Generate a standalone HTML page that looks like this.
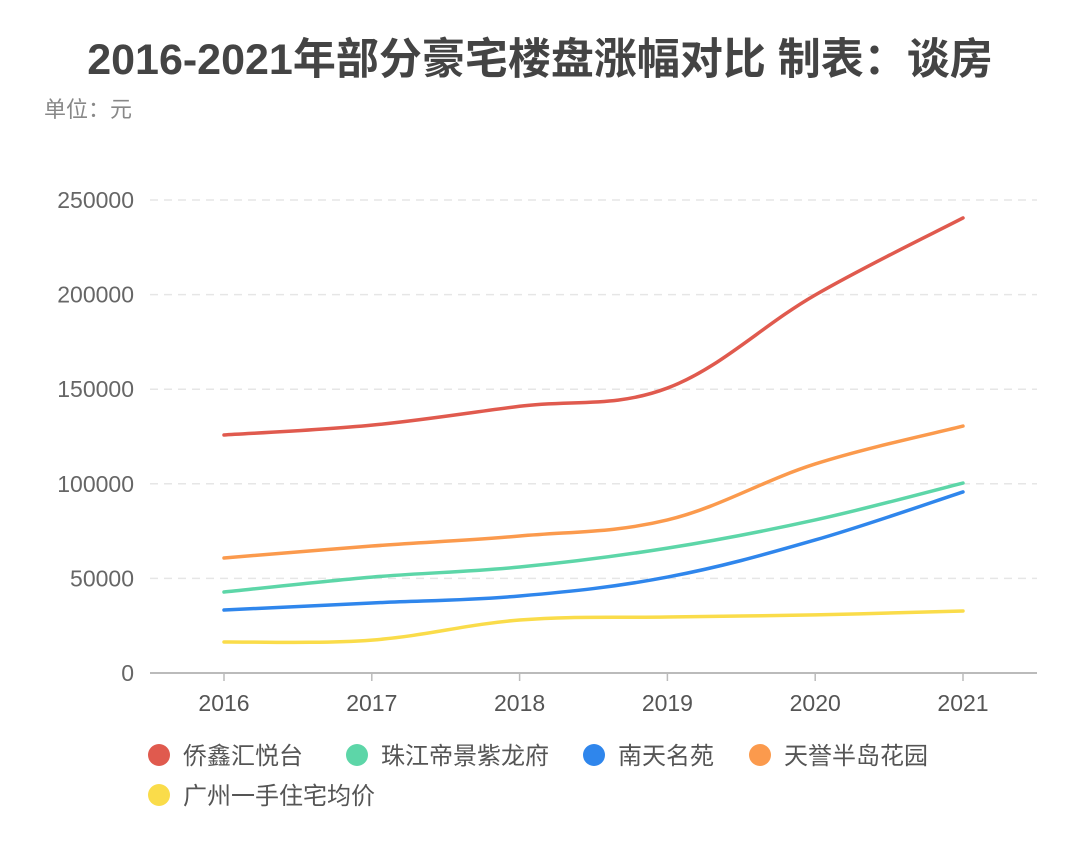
<!DOCTYPE html>
<html><head><meta charset="utf-8"><style>
body{margin:0;background:#fff;width:1080px;height:845px;overflow:hidden;font-family:"Liberation Sans","Noto Sans CJK SC",sans-serif}
</style></head><body>
<svg id="chart" width="1080" height="845" xmlns="http://www.w3.org/2000/svg" font-family="Liberation Sans, Noto Sans CJK SC, sans-serif">
<text x="540" y="74" text-anchor="middle" font-size="43" font-weight="bold" fill="#444">2016-2021年部分豪宅楼盘涨幅对比 制表：谈房</text>
<text x="44" y="117" font-size="22" fill="#888">单位：元</text>
<g id="grid"></g><g id="axes"></g><g id="lines"></g><g id="legend"></g>
</svg>
<script>
const categories=["2016","2017","2018","2019","2020","2021"];
const yTicks=[0,50000,100000,150000,200000,250000];
const seriesNames=["侨鑫汇悦台","珠江帝景紫龙府","南天名苑","天誉半岛花园","广州一手住宅均价"];
const seriesColors=["#e05a4e","#5dd6a8","#2f86ec","#fb9a4d","#fadc4a"];
const s1=[125800,131000,141000,150600,199800,240500];
const s2=[42800,50700,56000,66000,80900,100400];
const s3=[33300,37000,40700,50700,70300,95700];
const s4=[60800,67100,72400,80900,110500,130500];
const s5=[16400,17400,28000,29600,30700,32800];
const series=[s1,s2,s3,s4,s5];
const NS="http://www.w3.org/2000/svg";
const x=i=>224+i*147.8;
const y=v=>673-v/250000*473;
function mk(tag,attrs,parent){const e=document.createElementNS(NS,tag);for(const k in attrs)e.setAttribute(k,attrs[k]);parent.appendChild(e);return e;}
const grid=document.getElementById('grid'),axes=document.getElementById('axes'),lines=document.getElementById('lines'),legend=document.getElementById('legend');
yTicks.forEach(t=>{
 if(t>0){const g=mk('line',{x1:150,x2:1037,y1:y(t),y2:y(t),stroke:'#e6e6e6','stroke-dasharray':'8,6','stroke-width':1.5},grid);
 
 }
 const l=mk('text',{x:134,y:y(t)+8,'text-anchor':'end','font-size':23,fill:'#666'},axes);l.textContent=t;
 
 
});
const ax=mk('line',{x1:150,x2:1037,y1:673,y2:673,stroke:'#bbb','stroke-width':2},axes);


categories.forEach((c,i)=>{
 mk('line',{x1:x(i),x2:x(i),y1:673,y2:681,stroke:'#bbb','stroke-width':1.5},axes);
 const l=mk('text',{x:x(i),y:711,'text-anchor':'middle','font-size':23,fill:'#555'},axes);l.textContent=c;
 
 
});
function path(vals){
 const p=vals.map((v,i)=>[x(i),y(v)]);let d=`M${p[0][0]},${p[0][1]}`;
 for(let i=0;i<p.length-1;i++){const p0=p[Math.max(0,i-1)],p1=p[i],p2=p[i+1],p3=p[Math.min(p.length-1,i+2)];
  const t=0.18;const c1=[p1[0]+(p2[0]-p0[0])*t,p1[1]+(p2[1]-p0[1])*t],c2=[p2[0]-(p3[0]-p1[0])*t,p2[1]-(p3[1]-p1[1])*t];
  d+=` C${c1[0]},${c1[1]} ${c2[0]},${c2[1]} ${p2[0]},${p2[1]}`;}
 return d;}
series.forEach((s,k)=>{
 const e=mk('path',{d:path(s),fill:'none',stroke:seriesColors[k],'stroke-width':3.5,'stroke-linecap':'round'},lines);
 
 
});
const lx=[159,357,594,760,159],ly=[755,755,755,755,795];
seriesNames.forEach((n,k)=>{
 const g=mk('g',{},legend);
 
 
 mk('circle',{cx:lx[k],cy:ly[k],r:11,fill:seriesColors[k]},g);
 const t=mk('text',{x:lx[k]+24,y:ly[k]+9,'font-size':24,fill:'#555'},g);t.textContent=n;
});
</script>
</body></html>
